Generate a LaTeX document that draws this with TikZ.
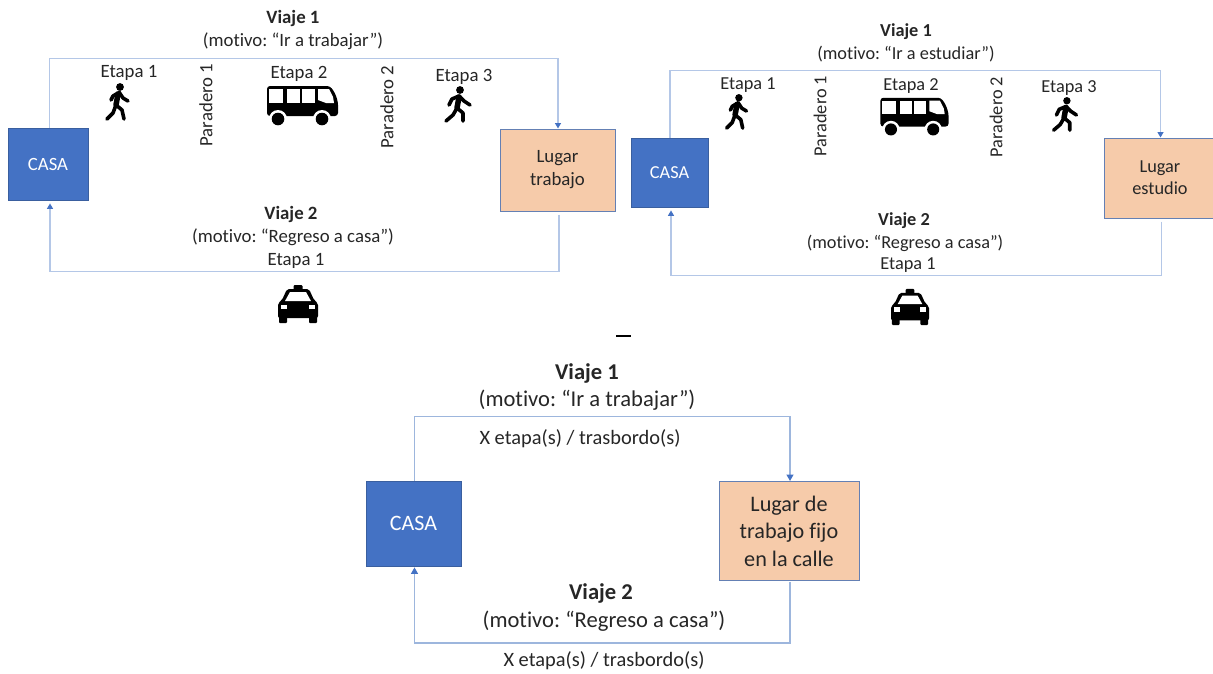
\documentclass[tikz,border=0pt]{standalone}
\usepackage{fontspec}
\setmainfont{Carlito}[Ligatures=CommonOff]
\usetikzlibrary{arrows.meta}
\definecolor{casablue}{HTML}{4472C4}
\definecolor{casaedge}{HTML}{3A5F9F}
\definecolor{lugarfill}{HTML}{F6CBAA}
\definecolor{lugaredge}{HTML}{6480B4}
\definecolor{linelight}{HTML}{B4C7E7}
\definecolor{linemid}{HTML}{9DB6DD}
\definecolor{tipblue}{HTML}{4472C4}
\definecolor{txt}{HTML}{262626}
\tikzset{
  x=1pt,y=-1pt,
  label16/.style={text=txt,inner sep=0pt,align=center,font=\fontsize{18.8}{23}\selectfont\frenchspacing},
  head16/.style={label16,font=\fontsize{18.8}{23}\selectfont\bfseries},
  small15/.style={text=txt,inner sep=0pt,align=center,font=\fontsize{18.3}{22}\selectfont\frenchspacing},
  head15/.style={small15,font=\fontsize{18.3}{22}\selectfont\bfseries},
  big/.style={text=txt,inner sep=0pt,align=center,font=\fontsize{22.6}{27.5}\selectfont\frenchspacing},
  bighead/.style={big,font=\fontsize{22.6}{27.5}\selectfont\bfseries},
  mid/.style={text=txt,inner sep=0pt,align=center,font=\fontsize{20.4}{24}\selectfont},
  casabox/.style={draw=casaedge,line width=0.8pt,fill=casablue,text=white,inner sep=0pt,align=center},
  lugarbox/.style={draw=lugaredge,line width=1pt,fill=lugarfill,text=txt,inner sep=0pt,align=center},
  conn/.style={draw=linelight,line width=1.3pt,-{Triangle[length=5.5pt,width=6pt,color=tipblue]}},
  conndark/.style={draw=linemid,line width=1.3pt,-{Triangle[length=6.5pt,width=7pt,color=tipblue]}},
  walker/.pic={
    \fill[black] (2,-15) circle (3.9);
    \draw[black,line width=3.6pt,line cap=round,line join=round]
      (-2,3) -- (-5,11) -- (-11,17)
      (-2,3) -- (4,8) -- (6,17)
      (0,-9) -- (-5,-6) -- (-7,-2)
      (1,-10) -- (5,-4) -- (10,-1);
    \draw[black,line width=5.5pt,line cap=round] (0,-8) -- (-2,3);
  },
  walkerb/.pic={
    \fill[black] (2,-15) circle (3.9);
    \draw[black,line width=3.6pt,line cap=round,line join=round]
      (-1,3) -- (-5,10) -- (-12,16)
      (-1,3) -- (5,8) -- (5,16)
      (1,-9) -- (-6,-6) -- (-9,0)
      (1,-9) -- (6,-4) -- (12,0);
    \draw[black,line width=5.5pt,line cap=round] (1,-8) -- (-1,3);
  },
  busicon/.pic={
    \fill[black,rounded corners=3pt] (-35,-19) -- (28,-19) -- (33,-12) -- (36,-3) -- (36,11) -- (-35,11) -- cycle;
    \fill[white] (-33,-16) rectangle (-19,-2);
    \fill[white] (-15,-16) rectangle (-2,-2);
    \fill[white] (0,-16) rectangle (13,-2);
    \fill[white] (16,-16) -- (27,-16) -- (31,-8) -- (32,-2) -- (24,-2) -- (16,-5) -- cycle;
    \fill[white] (-24,14) circle (9);
    \fill[white] (20,14) circle (9);
    \fill[black] (-24,14) circle (6.3);
    \fill[black] (20,14) circle (6.3);
  },
  taxiicon/.pic={
    \fill[black,rounded corners=1pt] (-4.5,-19) rectangle (4.5,-13);
    \fill[black,rounded corners=2pt] (-11,-15) -- (11,-15) -- (16,-4) -- (20,-1) -- (20,14) -- (-20,14) -- (-20,-1) -- (-16,-4) -- cycle;
    \fill[black,rounded corners=1pt] (-19,12) rectangle (-11,19);
    \fill[black,rounded corners=1pt] (11,12) rectangle (19,19);
    \fill[white] (-8,-12) -- (8,-12) -- (13,-3) -- (-13,-3) -- cycle;
    \fill[white] (-17,0.5) rectangle (-11,5);
    \fill[white] (11,0.5) rectangle (17,5);
  }
}
\begin{document}
\begin{tikzpicture}
\useasboundingbox (0,0) rectangle (1213,673);
% diagram 1
\node[casabox,minimum width=80pt,minimum height=72pt,font=\fontsize{18.7}{23}\selectfont] (casaa) at (48,164) {CASA};
\node[lugarbox,minimum width=115pt,minimum height=82pt,font=\fontsize{18.8}{23}\selectfont] (lugara) at (557.5,170) {\raisebox{-3pt}{Lugar}\\\raisebox{-3pt}{trabajo}};
\draw[conn] ([xshift=1.5pt]casaa.north) -- ++(0,-69) -| ([xshift=0.5pt]lugara.north);
\draw[conn,shorten <=3pt,shorten >=3pt] ([xshift=1.5pt]lugara.south) -- ++(0,60) -| ([xshift=2pt]casaa.south);
\node[head16] (va1) at (293,18) {Viaje 1};
\node[label16] (ma1) at (293,41.5) {(motivo: “Ir a trabajar”)};
\node[label16] (ea1) at (129,73) {Etapa 1};
\node[label16,rotate=90] (pa1) at (206,105) {Paradero 1};
\node[label16] (ea2) at (299,74) {Etapa 2};
\node[label16,rotate=90] (pa2) at (387,107) {Paradero 2};
\node[label16] (ea3) at (464,77) {Etapa 3};
\node[head16] (va2) at (291,214) {Viaje 2};
\node[label16] (ma2) at (293,237) {(motivo: “Regreso a casa”)};
\node[label16] (ea4) at (296,261) {Etapa 1};
\pic (wa1) at (118,102) {walker};
\pic (wa3) at (458,105) {walkerb};
\pic (ba) at (302,105) {busicon};
\pic (ta) at (298,304) {taxiicon};
% diagram 2
\node[casabox,minimum width=77pt,minimum height=69pt,font=\fontsize{18.3}{22}\selectfont] (casab) at (669.5,172.5) {CASA};
\node[lugarbox,minimum width=112pt,minimum height=80pt,font=\fontsize{18.3}{22}\selectfont] (lugarb) at (1160,178) {\raisebox{-2pt}{Lugar}\\\raisebox{-2pt}{estudio}};
\draw[conn] ([xshift=0.5pt]casab.north) -- ++(0,-67) -| ([xshift=0.5pt]lugarb.north);
\draw[conn,shorten <=3pt,shorten >=3pt] ([xshift=1.5pt]lugarb.south) -- ++(0,57) -| ([xshift=1.5pt]casab.south);
\node[head15] (vb1) at (906,32) {Viaje 1};
\node[small15] (mb1) at (906,54) {(motivo: “Ir a estudiar”)};
\node[small15] (eb1) at (748,85) {Etapa 1};
\node[small15,rotate=90] (pb1) at (820,116) {Paradero 1};
\node[small15] (eb2) at (911,86) {Etapa 2};
\node[small15,rotate=90] (pb2) at (996,117) {Paradero 2};
\node[small15] (eb3) at (1069,88) {Etapa 3};
\node[head15] (vb2) at (904,221) {Viaje 2};
\node[small15] (mb2) at (905,243) {(motivo: “Regreso a casa”)};
\node[small15] (eb4) at (908,265) {Etapa 1};
\pic[scale=0.95] (wb1) at (737,112) {walker};
\pic[scale=0.95] (wb3) at (1065,115) {walkerb};
\pic[scale=0.96] (bb) at (914,116) {busicon};
\pic[scale=0.95] (tb) at (910,307) {taxiicon};
% stray dash
\coordinate (dasha) at (616,336);
\coordinate (dashb) at (631,336);
\draw[black,line width=1.6pt] (dasha) -- (dashb);
% diagram 3
\node[casabox,minimum width=95pt,minimum height=85pt,font=\fontsize{22}{27}\selectfont] (casac) at (413.5,523.5) {CASA};
\node[lugarbox,minimum width=140pt,minimum height=99pt,font=\fontsize{22.2}{27.5}\selectfont] (lugarc) at (789,531) {Lugar de\\trabajo fijo\\en la calle};
\draw[conndark] ([xshift=1pt]casac.north) -- ++(0,-64) -| ([xshift=1pt]lugarc.north);
\draw[conndark,shorten <=1pt,shorten >=1pt] ([xshift=1pt]lugarc.south) -- ++(0,62) -| ([xshift=1pt]casac.south);
\node[bighead] (vc1) at (587,373) {Viaje 1};
\node[big] (mc1) at (587,400) {(motivo: “Ir a trabajar”)};
\node[mid] (xc1) at (580,438.5) {X etapa(s) / trasbordo(s)};
\node[bighead] (vc2) at (601,593.5) {Viaje 2};
\node[big] (mc2) at (604,621.5) {(motivo: “Regreso a casa”)};
\node[mid] (xc2) at (604,660.5) {X etapa(s) / trasbordo(s)};
\end{tikzpicture}
\end{document}
